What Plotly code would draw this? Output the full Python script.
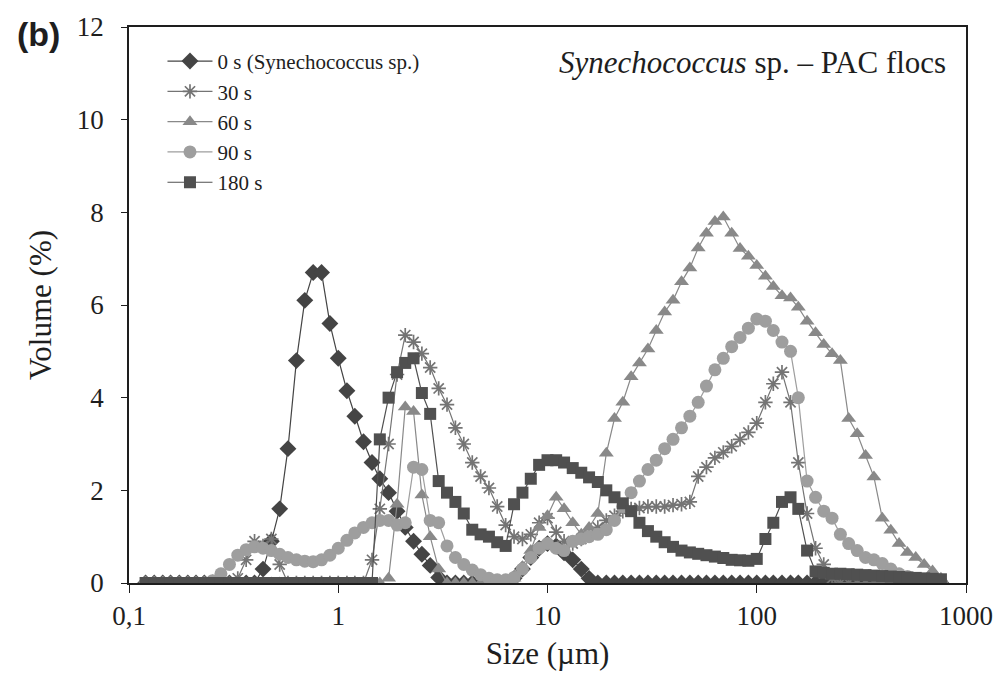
import plotly.graph_objects as go

# Particle size channels (µm)
sizes = [
    0.120, 0.132, 0.145, 0.158, 0.174, 0.191, 0.209, 0.229, 0.251, 0.275, 0.302, 0.331,
    0.363, 0.398, 0.437, 0.479, 0.525, 0.575, 0.631, 0.692, 0.759, 0.832, 0.912,
    1.00, 1.10, 1.20, 1.32, 1.45, 1.58, 1.74, 1.91, 2.09, 2.29, 2.51, 2.75, 3.02,
    3.31, 3.63, 3.98, 4.37, 4.79, 5.25, 5.75, 6.31, 6.92, 7.59, 8.32, 9.12,
    10.0, 11.0, 12.0, 13.2, 14.5, 15.8, 17.4, 19.1, 20.9, 22.9, 25.1, 27.5, 30.2,
    33.1, 36.3, 39.8, 43.7, 47.9, 52.5, 57.5, 63.1, 69.2, 75.9, 83.2, 91.2,
    100, 110, 120, 132, 145, 158, 174, 191, 209, 229, 251, 275, 302,
    331, 363, 398, 437, 479, 525, 575, 631, 692, 759,
]

vol_0s = [
    0, 0, 0, 0, 0, 0, 0, 0, 0, 0, 0, 0, 0, 0, 0.3, 0.9, 1.6, 2.9, 4.8, 6.1, 6.7, 6.7, 5.6,
    4.85, 4.15, 3.6, 3.05, 2.6, 2.25, 1.95, 1.55, 1.2, 0.9, 0.62, 0.38, 0.12, 0, 0, 0,
    0, 0, 0, 0, 0, 0.1, 0.3, 0.55, 0.75,
    0.85, 0.8, 0.65, 0.5, 0.3, 0.1, 0, 0, 0, 0, 0, 0, 0, 0, 0, 0, 0, 0, 0, 0, 0, 0, 0, 0, 0,
    0, 0, 0, 0, 0, 0, 0, 0, 0, 0, 0, 0, 0, 0, 0, 0, 0, 0, 0, 0, 0, 0, 0,
]

vol_30s = [
    0, 0, 0, 0, 0, 0, 0, 0, 0, 0, 0, 0.1, 0.5, 0.9, 0.8, 0.95, 0.4, 0, 0, 0, 0, 0, 0,
    0, 0, 0, 0, 0.5, 1.6, 3.0, 4.5, 5.35, 5.2, 4.95, 4.65, 4.2, 3.85, 3.35, 3.0,
    2.6, 2.3, 2.05, 1.65, 1.25, 1.0, 0.95, 1.05, 1.3,
    1.4, 1.1, 0.9, 0.85, 0.95, 1.05, 1.2, 1.35, 1.45, 1.55, 1.6, 1.62, 1.65, 1.65, 1.65,
    1.68, 1.7, 1.75, 2.3, 2.5, 2.7, 2.82, 2.95, 3.1, 3.25,
    3.45, 3.9, 4.3, 4.55, 3.9, 2.6, 1.5, 0.75, 0.4, 0.1, 0, 0, 0, 0, 0, 0, 0, 0, 0, 0, 0, 0, 0,
]

vol_60s = [
    0, 0, 0, 0, 0, 0, 0, 0, 0, 0, 0, 0, 0, 0, 0, 0, 0, 0, 0, 0, 0, 0, 0,
    0, 0, 0, 0, 0, 0, 0.1, 1.7, 3.8, 3.7, 1.9, 1.0, 0.3, 0, 0, 0,
    0, 0, 0, 0, 0, 0.1, 0.35, 0.7, 1.2,
    1.45, 1.85, 1.6, 1.3, 1.05, 1.2, 1.5, 2.8, 3.55, 3.9, 4.45, 4.75, 5.05, 5.45, 5.85,
    6.1, 6.5, 6.8, 7.23, 7.55, 7.8, 7.9, 7.55, 7.22, 7.05,
    6.85, 6.62, 6.4, 6.2, 6.15, 5.95, 5.65, 5.4, 5.15, 4.95, 4.8, 3.55,
    3.22, 2.75, 2.29, 1.4, 1.14, 0.85, 0.66, 0.55, 0.4, 0.26, 0.1,
]

vol_90s = [
    0, 0, 0, 0, 0, 0, 0, 0, 0.05, 0.2, 0.4, 0.6, 0.72, 0.78, 0.75, 0.7, 0.62, 0.55, 0.5,
    0.47, 0.46, 0.5, 0.6,
    0.75, 0.92, 1.08, 1.2, 1.3, 1.35, 1.35, 1.25, 1.3, 2.5, 2.45, 1.35, 1.3, 0.8, 0.55,
    0.4, 0.28, 0.18, 0.1, 0.07, 0.07, 0.12, 0.3, 0.55, 0.75,
    0.85, 0.75, 0.7, 0.9, 0.95, 1.0, 1.05, 1.15, 1.35, 1.65, 1.95, 2.2, 2.45, 2.65, 2.9,
    3.1, 3.35, 3.6, 3.9, 4.25, 4.6, 4.85, 5.1, 5.3, 5.5,
    5.7, 5.65, 5.45, 5.2, 5.0, 4.0, 2.2, 1.85, 1.55, 1.4, 1.05, 0.85,
    0.7, 0.55, 0.5, 0.42, 0.3, 0.2, 0.14, 0.08, 0.04, 0.02, 0,
]

vol_180s = [
    0, 0, 0, 0, 0, 0, 0, 0, 0, 0, 0, 0, 0, 0, 0, 0, 0, 0, 0, 0, 0, 0, 0,
    0, 0, 0, 0, 0, 3.1, 4.0, 4.55, 4.75, 4.85, 4.1, 3.65, 2.2, 1.95, 1.75,
    1.5, 1.15, 1.05, 1.0, 0.88, 0.8, 1.7, 1.95, 2.25, 2.55,
    2.65, 2.65, 2.6, 2.48, 2.38, 2.28, 2.18, 2.0, 1.85, 1.72, 1.55, 1.3, 1.12, 1.0, 0.88,
    0.78, 0.7, 0.66, 0.63, 0.6, 0.57, 0.54, 0.5, 0.49, 0.48,
    0.52, 0.95, 1.3, 1.75, 1.85, 1.6, 0.7, 0.25, 0.22, 0.2, 0.2, 0.19,
    0.18, 0.17, 0.16, 0.15, 0.14, 0.13, 0.12, 0.11, 0.1, 0.09, 0.08,
]

series_names = ["0 s (Synechococcus sp.)", "30 s", "60 s", "90 s", "180 s"]
series_values = [vol_0s, vol_30s, vol_60s, vol_90s, vol_180s]
series_symbols = ["diamond", "asterisk-open", "triangle-up", "circle", "square"]
series_colors = ["#444444", "#747474", "#898989", "#9e9e9e", "#505050"]
series_sizes = [13, 12, 13, 13, 12]

x_tickvals = [0.1, 1, 10, 100, 1000]
x_ticktext = ["0,1", "1", "10", "100", "1000"]

SERIF = "Liberation Serif"
INK = "#1e1e1e"

fig = go.Figure()
for i, (name, vals, sym, col, sz) in enumerate(
        zip(series_names, series_values, series_symbols, series_colors, series_sizes)):
    marker = dict(symbol=sym, size=sz, color=col)
    if sym == "asterisk-open":
        marker["line"] = dict(color=col, width=1.7)
    fig.add_trace(go.Scatter(
        x=sizes, y=vals, name=name, mode="lines+markers",
        line=dict(color=col, width=1.2), marker=marker,
        legendgroup=f"g{i}",
    ))

fig.update_layout(
    width=1005, height=685,
    margin=dict(l=129, r=31, t=25, b=102),
    paper_bgcolor="white", plot_bgcolor="white",
    font=dict(family=SERIF, size=22, color=INK),
    showlegend=True,
    legend=dict(
        x=0.04, y=0.975, xanchor="left", yanchor="top",
        bgcolor="rgba(0,0,0,0)", borderwidth=0,
        font=dict(family=SERIF, size=21, color=INK),
        tracegroupgap=0, itemwidth=45,
    ),
    xaxis=dict(
        type="log", range=[-1, 3],
        tickvals=x_tickvals, ticktext=x_ticktext,
        ticks="outside", ticklen=8, tickwidth=1.2, tickcolor=INK,
        showline=True, linecolor=INK, linewidth=1.5, mirror=True,
        showgrid=False, zeroline=False,
        tickfont=dict(family=SERIF, size=27, color=INK),
        title=dict(text="Size (µm)", font=dict(family=SERIF, size=31, color=INK), standoff=12),
    ),
    yaxis=dict(
        range=[0, 12], dtick=2,
        ticks="outside", ticklen=6, tickwidth=1.2, tickcolor=INK,
        showline=True, linecolor=INK, linewidth=1.5, mirror=True,
        showgrid=False, zeroline=False,
        tickfont=dict(family=SERIF, size=27, color=INK),
        ticklabelstandoff=12,
        title=dict(text="Volume (%)", font=dict(family=SERIF, size=31, color=INK), standoff=16),
    ),
    annotations=[
        dict(text="<b>(b)</b>", xref="paper", yref="paper", x=-0.1077, y=0.987,
             xanchor="center", yanchor="middle", showarrow=False,
             font=dict(family="Liberation Sans", size=34, color=INK)),
        dict(text="<i>Synechococcus</i> sp. – PAC flocs", xref="paper", yref="paper",
             x=0.978, y=0.9355, xanchor="right", yanchor="middle", showarrow=False,
             font=dict(family=SERIF, size=31, color=INK)),
    ],
)

fig.write_html("out.html")
